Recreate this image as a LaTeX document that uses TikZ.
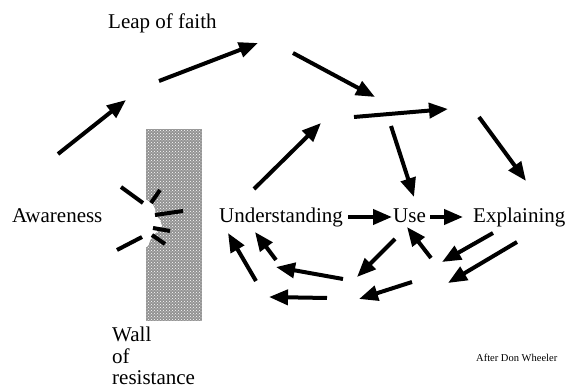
\documentclass[tikz,border=0pt]{standalone}
\usepackage{fontspec}
\setmainfont{Liberation Serif}
\usetikzlibrary{arrows.meta,patterns}
\tikzset{
  bigarrow/.style={line width=4pt,-{Triangle[length=19pt,width=15pt]}},
  burst/.style={line width=4pt},
  label/.style={anchor=base west,inner sep=0pt,font=\fontsize{21}{21.5}\selectfont},
  small/.style={anchor=base west,inner sep=0pt,font=\fontsize{10.5}{12}\selectfont},
}
\begin{document}
\begin{tikzpicture}[x=1pt,y=-1pt]
\useasboundingbox (0,0) rectangle (566,390);
% wall
\fill[gray!85] (146,129) rectangle (202,321);
\fill[pattern=crosshatch dots,pattern color=white] (146,129) rectangle (202,321);
\fill[white] (145,199) -- (152,203) -- (155,209) -- (156,216) -- (160,220) -- (162,226) -- (157,232) -- (152,236) -- (150,241) -- (148,246) -- (145,248) -- cycle;
% texts
\node[label] (leap) at (108,29) {Leap of faith};
\node[label] (aw) at (12,223) {Awareness};
\node[label] (und) at (219,223) {Understanding};
\node[label] (use) at (393,223) {Use};
\node[label] (exp) at (473,223) {Explaining};
\node[label,align=left,anchor=north west] (wall) at (112,327) {Wall\\of\\resistance};
\node[small] (after) at (476,362) {After Don Wheeler};
% burst lines
\coordinate (b1s) at (121,187); \coordinate (b1e) at (143,203);
\coordinate (b2s) at (151,203); \coordinate (b2e) at (160,190);
\coordinate (b3s) at (155,215); \coordinate (b3e) at (183,211);
\coordinate (b4s) at (153,228); \coordinate (b4e) at (170,231);
\coordinate (b5s) at (152,235); \coordinate (b5e) at (165,244);
\coordinate (b6s) at (117,250); \coordinate (b6e) at (142,237);
\foreach \i in {1,...,6} {\draw[burst] (b\i s) -- (b\i e);}
% arrows
\coordinate (a1s) at (58,154);  \coordinate (a1e) at (126,100);
\coordinate (a2s) at (159,81);  \coordinate (a2e) at (258,43);
\coordinate (a3s) at (293,53);  \coordinate (a3e) at (375,97);
\coordinate (a4s) at (354,117); \coordinate (a4e) at (448,109);
\coordinate (a5s) at (479,117); \coordinate (a5e) at (526,181);
\coordinate (a6s) at (391,126); \coordinate (a6e) at (414,197);
\coordinate (a7s) at (254,189); \coordinate (a7e) at (321,123);
\coordinate (a8s) at (348,217); \coordinate (a8e) at (392,217);
\coordinate (a9s) at (430,217); \coordinate (a9e) at (463,217);
\coordinate (a10s) at (493,233); \coordinate (a10e) at (442,262);
\coordinate (a11s) at (517,242); \coordinate (a11e) at (448,283);
\coordinate (a12s) at (431,258); \coordinate (a12e) at (407,227);
\coordinate (a13s) at (395,239); \coordinate (a13e) at (357,277);
\coordinate (a14s) at (412,282); \coordinate (a14e) at (359,299);
\coordinate (a15s) at (343,279); \coordinate (a15e) at (276,267);
\coordinate (a16s) at (327,298); \coordinate (a16e) at (269,297);
\coordinate (a17s) at (276,260); \coordinate (a17e) at (255,232);
\coordinate (a18s) at (256,281); \coordinate (a18e) at (228,233);
\foreach \i in {1,...,18} {\draw[bigarrow] (a\i s) -- (a\i e);}
\end{tikzpicture}
\end{document}
